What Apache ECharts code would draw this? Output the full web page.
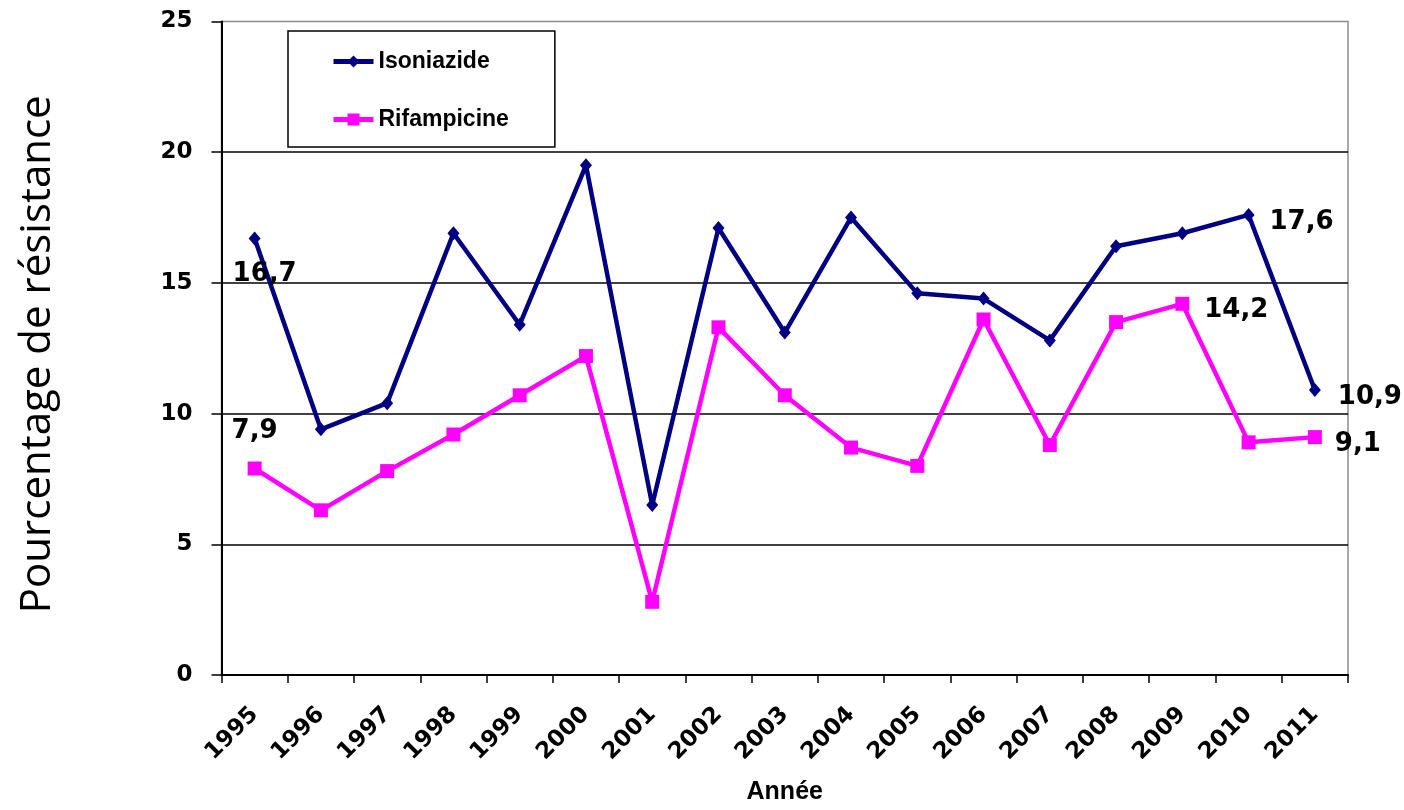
<!DOCTYPE html>
<html>
<head>
<meta charset="utf-8">
<title>Résistance</title>
<script src="https://cdn.jsdelivr.net/npm/echarts@6/dist/echarts.min.js"></script>
<style>
  html, body { margin: 0; padding: 0; background: #fff; }
  #chart { width: 1404px; height: 810px; }
</style>
</head>
<body>
<div id="chart"></div>
<script>
// Years on the category axis
const years = ['1995', '1996', '1997', '1998', '1999', '2000', '2001', '2002', '2003',
               '2004', '2005', '2006', '2007', '2008', '2009', '2010', '2011'];

// Resistance percentages per year
const isoniazide = [16.7, 9.4, 10.4, 16.9, 13.4, 19.5, 6.5, 17.1, 13.1,
                    17.5, 14.6, 14.4, 12.8, 16.4, 16.9, 17.6, 10.9];
const rifampicine = [7.9, 6.3, 7.8, 9.2, 10.7, 12.2, 2.8, 13.3, 10.7,
                     8.7, 8.0, 13.6, 8.8, 13.5, 14.2, 8.9, 9.1];

// Value axis range
const yMin = 0;
const yMax = 25;
const yStep = 5;

const DIGITS = 'DejaVu Sans';
const WORDS = 'Liberation Sans';

// Which points carry a value label, and where the label sits relative to the marker
const isoLabelOffsets = { 0: [10, 36], 15: [53, 7], 16: [55, 7] };
const rifLabelOffsets = { 0: [0, -37], 14: [54, 6], 16: [43, 7] };

function frNumber(v) {
  return String(v).replace('.', ',');
}

function buildData(values, offsets) {
  return values.map(function (v, i) {
    const item = { value: v };
    if (offsets[i]) {
      item.label = {
        show: true,
        position: 'inside',
        offset: offsets[i],
        formatter: function (p) { return frNumber(p.value); },
        color: '#000',
        fontFamily: DIGITS,
        fontWeight: 'bold',
        fontSize: 26
      };
    }
    return item;
  });
}

const chart = echarts.init(document.getElementById('chart'), null, { renderer: 'canvas' });

chart.setOption({
  backgroundColor: '#fff',
  animation: false,
  grid: {
    left: 221.5,
    right: 56,
    top: 21.5,
    bottom: 127,
    show: true,
    borderColor: '#8c8c8c',
    borderWidth: 1.5,
    backgroundColor: 'transparent'
  },
  legend: {
    orient: 'vertical',
    left: 288,
    top: 31,
    padding: [19, 46, 16, 43],
    itemGap: 35,
    itemWidth: 40,
    itemHeight: 15,
    borderColor: '#000',
    borderWidth: 1.5,
    lineStyle: { width: 5 },
    textStyle: {
      color: '#000',
      fontFamily: WORDS,
      fontWeight: 'bold',
      fontSize: 23,
      lineHeight: 23
    },
    data: ['Isoniazide', 'Rifampicine']
  },
  xAxis: {
    type: 'category',
    data: years,
    boundaryGap: true,
    name: 'Année',
    nameLocation: 'middle',
    nameGap: 105,
    nameTextStyle: {
      color: '#000',
      fontFamily: WORDS,
      fontWeight: 'bold',
      fontSize: 25
    },
    axisLine: { lineStyle: { color: '#000', width: 2 } },
    axisTick: { show: true, length: 8, lineStyle: { color: '#000', width: 1.5 } },
    axisLabel: {
      rotate: 45,
      margin: 36,
      interval: 0,
      color: '#000',
      fontFamily: DIGITS,
      fontWeight: 'bold',
      fontSize: 23
    },
    splitLine: { show: false }
  },
  yAxis: {
    type: 'value',
    min: yMin,
    max: yMax,
    interval: yStep,
    name: 'Pourcentage de résistance',
    nameLocation: 'middle',
    nameGap: 162,
    nameRotate: 90,
    nameTextStyle: {
      color: '#000',
      fontFamily: 'Open Sans',
      fontSize: 42,
      padding: [0, 12, 0, 0]
    },
    axisLine: { show: true, lineStyle: { color: '#000', width: 2 } },
    axisTick: { show: true, length: 10, lineStyle: { color: '#000', width: 1.5 } },
    axisLabel: {
      margin: 29,
      color: '#000',
      fontFamily: DIGITS,
      fontWeight: 'bold',
      fontSize: 23
    },
    splitLine: {
      show: true,
      showMaxLine: false,
      lineStyle: { color: '#000', width: 1.5 }
    }
  },
  series: [
    {
      name: 'Isoniazide',
      type: 'line',
      data: buildData(isoniazide, isoLabelOffsets),
      symbol: 'diamond',
      symbolSize: [12, 14],
      showAllSymbol: true,
      lineStyle: { color: '#000080', width: 4.5 },
      itemStyle: { color: '#000080' },
      z: 3
    },
    {
      name: 'Rifampicine',
      type: 'line',
      data: buildData(rifampicine, rifLabelOffsets),
      symbol: 'rect',
      symbolSize: 14,
      showAllSymbol: true,
      lineStyle: { color: '#ff00ff', width: 4.5 },
      itemStyle: { color: '#ff00ff' },
      z: 2
    }
  ]
});
</script>
</body>
</html>
